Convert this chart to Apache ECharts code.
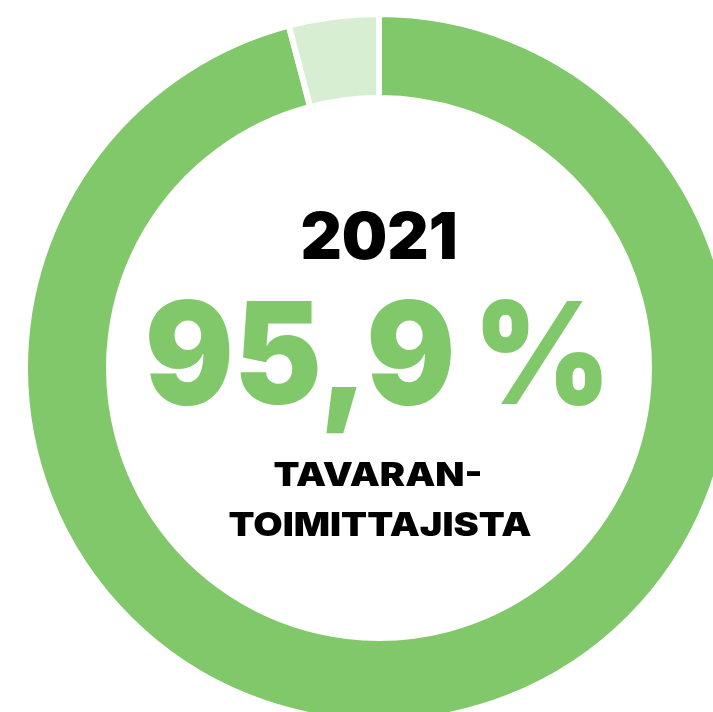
<!DOCTYPE html>
<html><head><meta charset="utf-8">
<script src="https://cdn.jsdelivr.net/npm/echarts@6/dist/echarts.min.js"></script>
<style>html,body{margin:0;padding:0;background:#fff}#c{width:713px;height:712px}</style>
</head><body><div id="c"></div>
<script>
const categories = ['Tavarantoimittajista', 'Muut'];
const values = [95.9, 4.1];
const colors = ['#80c869', '#d8eed3'];
const yearText = '2021';
const valueText = '95,9\u202f%';
const labelLines = ['TAVARAN-', 'TOIMITTAJISTA'];

const chart = echarts.init(document.getElementById('c'));
const font = 'Inter, "DejaVu Sans", sans-serif';
chart.setOption({
  animation: false,
  series: [{
    type: 'pie',
    center: [379, 368],
    radius: [270, 354],
    startAngle: 90,
    clockwise: true,
    label: {show: false},
    labelLine: {show: false},
    itemStyle: {borderColor: '#fff', borderWidth: 6},
    data: categories.map((c, i) => ({name: c, value: values[i], itemStyle: {color: colors[i]}}))
  }],
  graphic: [
    {type: 'text', x: 379, y: 240, style: {text: yearText, font: '900 64px ' + font, fill: '#000', align: 'center', verticalAlign: 'middle'}},
    {type: 'text', x: 378, y: 361, scaleX: 0.93, style: {text: valueText, font: '900 142px ' + font, fill: '#80c869', align: 'center', verticalAlign: 'middle'}},
    {type: 'text', x: 378, y: 476, scaleX: 1.15, style: {text: labelLines[0], font: '900 33px ' + font, fill: '#000', align: 'center', verticalAlign: 'middle'}},
    {type: 'text', x: 380, y: 526, scaleX: 1.15, style: {text: labelLines[1], font: '900 33px ' + font, fill: '#000', align: 'center', verticalAlign: 'middle'}}
  ]
});
</script></body></html>
